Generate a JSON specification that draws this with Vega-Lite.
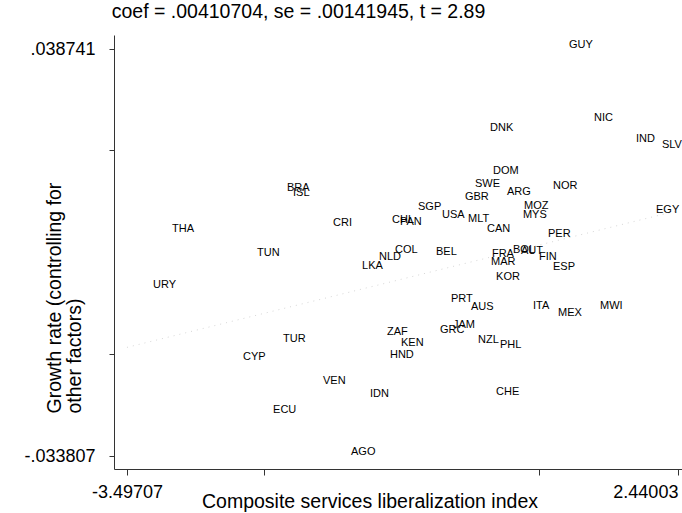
{
  "$schema": "https://vega.github.io/schema/vega-lite/v6.json",
  "width": 568,
  "height": 434,
  "autosize": {"type": "none"},
  "padding": {"left": 114, "top": 35, "right": 0, "bottom": 44},
  "background": "white",
  "config": {"view": {"stroke": null}, "font": "Liberation Sans"},
  "title": {
    "text": "coef = .00410704, se = .00141945, t = 2.89",
    "fontSize": 19.5,
    "font": "Liberation Sans",
    "fontWeight": "normal",
    "color": "#000000",
    "anchor": "middle",
    "dx": -99.5,
    "offset": 4,
    "baseline": "middle"
  },
  "encoding": {
    "x": {
      "field": "x",
      "type": "quantitative",
      "scale": {"domain": [-3.637, 2.484], "nice": false, "zero": false},
      "axis": {
        "title": "Composite services liberalization index",
        "titleFont": "Liberation Sans",
        "titleFontSize": 19.5,
        "titleFontWeight": "normal",
        "titleColor": "#000000",
        "titleX": 255.5,
        "titleY": 32,
        "titleAlign": "center",
        "titleBaseline": "middle",
        "values": [-3.49707, -2.0205, 0.9429, 2.44003],
        "labelExpr": "datum.value == -3.49707 ? '-3.49707' : datum.value == 2.44003 ? '2.44003' : ''",
        "labelFont": "Liberation Sans",
        "labelFontSize": 18,
        "labelColor": "#000000",
        "labelPadding": 8,
        "labelAlign": {"condition": {"test": "datum.value > 2", "value": "right"}, "value": "center"},
        "labelFlush": false,
        "labelOverlap": false,
        "labelBound": false,
        "tickSize": 6,
        "tickColor": "#333333",
        "domainColor": "#333333",
        "grid": false
      }
    },
    "y": {
      "field": "y",
      "type": "quantitative",
      "scale": {"domain": [-0.03604, 0.04132], "nice": false, "zero": false},
      "axis": {
        "title": ["Growth rate (controlling for", "other factors)"],
        "titleFont": "Liberation Sans",
        "titleFontSize": 19.5,
        "titleFontWeight": "normal",
        "titleColor": "#000000",
        "titleAngle": 270,
        "titleAlign": "left",
        "titleBaseline": "top",
        "titleLineHeight": 20,
        "titleX": -68.5,
        "titleY": 378,
        "values": [-0.033807, -0.0155, 0.0208, 0.038741],
        "labelExpr": "datum.value == 0.038741 ? '.038741' : datum.value == -0.033807 ? '-.033807' : ''",
        "labelFont": "Liberation Sans",
        "labelFontSize": 18,
        "labelColor": "#000000",
        "labelPadding": 14,
        "labelFlush": false,
        "labelOverlap": false,
        "labelBound": false,
        "tickSize": 5,
        "tickColor": "#333333",
        "domainColor": "#333333",
        "grid": false
      }
    }
  },
  "layer": [
    {
      "data": {"values": [
        {"x": -3.49707, "y": -0.014363},
        {"x": 2.44003, "y": 0.010021}
      ]},
      "mark": {"type": "line", "color": "#cccccc", "strokeWidth": 0.8, "strokeDash": [1, 5]}
    },
    {
      "data": {"values": [
        {"code": "GUY", "x": 1.266, "y": 0.03954},
        {"code": "NIC", "x": 1.536, "y": 0.02652},
        {"code": "DNK", "x": 0.415, "y": 0.02474},
        {"code": "IND", "x": 1.988, "y": 0.02278},
        {"code": "SLV", "x": 2.268, "y": 0.02171},
        {"code": "DOM", "x": 0.447, "y": 0.01708},
        {"code": "SWE", "x": 0.253, "y": 0.01476},
        {"code": "NOR", "x": 1.094, "y": 0.01440},
        {"code": "BRA", "x": -1.773, "y": 0.01405},
        {"code": "ARG", "x": 0.598, "y": 0.01333},
        {"code": "ISL", "x": -1.708, "y": 0.01316},
        {"code": "GBR", "x": 0.145, "y": 0.01244},
        {"code": "SGP", "x": -0.361, "y": 0.01066},
        {"code": "MOZ", "x": 0.781, "y": 0.01084},
        {"code": "EGY", "x": 2.204, "y": 0.01012},
        {"code": "MYS", "x": 0.770, "y": 0.00923},
        {"code": "USA", "x": -0.102, "y": 0.00923},
        {"code": "MLT", "x": 0.178, "y": 0.00852},
        {"code": "CHL", "x": -0.641, "y": 0.00834},
        {"code": "PAN", "x": -0.555, "y": 0.00799},
        {"code": "CRI", "x": -1.277, "y": 0.00781},
        {"code": "CAN", "x": 0.383, "y": 0.00674},
        {"code": "THA", "x": -3.012, "y": 0.00674},
        {"code": "PER", "x": 1.040, "y": 0.00585},
        {"code": "COL", "x": -0.609, "y": 0.00299},
        {"code": "BOL", "x": 0.663, "y": 0.00299},
        {"code": "AUT", "x": 0.749, "y": 0.00282},
        {"code": "BEL", "x": -0.167, "y": 0.00264},
        {"code": "TUN", "x": -2.096, "y": 0.00246},
        {"code": "FRA", "x": 0.436, "y": 0.00228},
        {"code": "NLD", "x": -0.781, "y": 0.00175},
        {"code": "FIN", "x": 0.943, "y": 0.00175},
        {"code": "MAR", "x": 0.426, "y": 0.00086},
        {"code": "LKA", "x": -0.964, "y": 0.00014},
        {"code": "ESP", "x": 1.094, "y": -0.00004},
        {"code": "KOR", "x": 0.480, "y": -0.00182},
        {"code": "URY", "x": -3.217, "y": -0.00324},
        {"code": "PRT", "x": -0.005, "y": -0.00574},
        {"code": "ITA", "x": 0.878, "y": -0.00699},
        {"code": "MWI", "x": 1.600, "y": -0.00699},
        {"code": "AUS", "x": 0.210, "y": -0.00717},
        {"code": "MEX", "x": 1.148, "y": -0.00824},
        {"code": "JAM", "x": 0.016, "y": -0.01037},
        {"code": "GRC", "x": -0.124, "y": -0.01127},
        {"code": "ZAF", "x": -0.695, "y": -0.01162},
        {"code": "TUR", "x": -1.816, "y": -0.01287},
        {"code": "NZL", "x": 0.286, "y": -0.01305},
        {"code": "KEN", "x": -0.544, "y": -0.01358},
        {"code": "PHL", "x": 0.523, "y": -0.01394},
        {"code": "HND", "x": -0.663, "y": -0.01572},
        {"code": "CYP", "x": -2.247, "y": -0.01608},
        {"code": "VEN", "x": -1.385, "y": -0.02036},
        {"code": "CHE", "x": 0.480, "y": -0.02232},
        {"code": "IDN", "x": -0.878, "y": -0.02267},
        {"code": "ECU", "x": -1.923, "y": -0.02553},
        {"code": "AGO", "x": -1.083, "y": -0.03301}
      ]},
      "mark": {"type": "text", "align": "left", "baseline": "middle", "fontSize": 11, "font": "Liberation Sans", "color": "#000000"},
      "encoding": {"text": {"field": "code", "type": "nominal"}}
    }
  ]
}
